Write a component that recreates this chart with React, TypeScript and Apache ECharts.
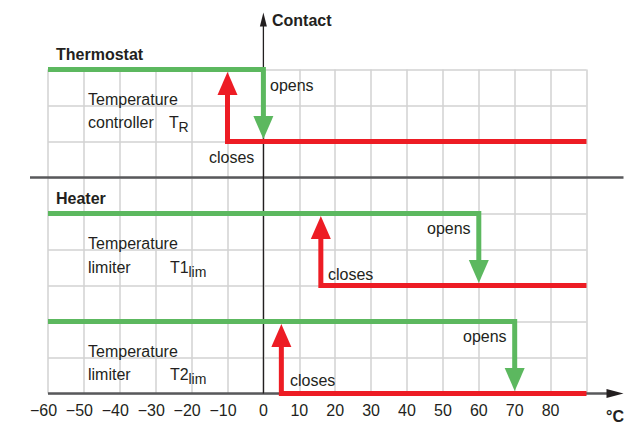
import React, { useEffect, useRef } from 'react';
import * as echarts from 'echarts';

// ---- data ----
const X_MIN = -60;
const X_MAX = 90;
const X_STEP = 10;
const Y_MIN = 0;
const Y_MAX = 9;
const xTickLabels = [-60, -50, -40, -30, -20, -10, 0, 10, 20, 30, 40, 50, 60, 70, 80];

// contact paths [temperature, contact level]
const thermostatOpens = [[-60, 9], [0, 9], [0, 7]];
const thermostatCloses = [[90, 7], [-10, 7], [-10, 9]];
const limiter1Opens = [[-60, 5], [60, 5], [60, 3]];
const limiter1Closes = [[90, 3], [16, 3], [16, 5]];
const limiter2Opens = [[-60, 2], [70, 2], [70, 0]];
const limiter2Closes = [[90, 0], [5, 0], [5, 2]];
const separatorLevel = [6];

const GREEN = '#5cb85f';
const RED = '#ed1c24';
const TEXT = '#231f20';
const AXIS = '#58595b';
const FONT = '"Liberation Sans", Arial, Helvetica, sans-serif';

function arrowSeries(path: number[][], color: string, z: number) {
  return {
    type: 'custom',
    coordinateSystem: 'cartesian2d',
    clip: false,
    silent: true,
    z,
    data: [path[0]],
    renderItem: (_p: any, api: any) => {
      const pts = path.map((p) => api.coord(p));
      const n = pts.length;
      const a = pts[n - 2];
      const b = pts[n - 1];
      const dx = b[0] - a[0];
      const dy = b[1] - a[1];
      const len = Math.hypot(dx, dy) || 1;
      const ux = dx / len;
      const uy = dy / len;
      const tip = [b[0] - ux * 2.5, b[1] - uy * 2.5];
      const headLen = 23;
      const headHalf = 10;
      const base = [tip[0] - ux * headLen, tip[1] - uy * headLen];
      const linePts = [...pts.slice(0, n - 1), [base[0] + ux * 2, base[1] + uy * 2]];
      return {
        type: 'group',
        children: [
          {
            type: 'polyline',
            shape: { points: linePts },
            style: { stroke: color, lineWidth: 5, fill: null, lineJoin: 'miter', lineCap: 'butt' },
          },
          {
            type: 'polygon',
            shape: {
              points: [
                tip,
                [base[0] - uy * headHalf, base[1] + ux * headHalf],
                [base[0] + uy * headHalf, base[1] - ux * headHalf],
              ],
            },
            style: { fill: color },
          },
        ],
      };
    },
  };
}

const axesSeries = {
  type: 'custom',
  coordinateSystem: 'cartesian2d',
  clip: false,
  silent: true,
  z: 3,
  data: [[X_MIN, Y_MIN]],
  renderItem: (_p: any, api: any) => {
    const o = api.coord([X_MIN, Y_MIN]);
    const e = api.coord([X_MAX, Y_MIN]);
    const xEnd = e[0] + 37;
    const y0 = api.coord([0, Y_MIN]);
    const yTop = api.coord([0, Y_MAX]);
    const yTip = yTop[1] - 57;
    const s0 = api.coord([X_MIN, separatorLevel[0]]);
    const s1 = api.coord([X_MAX, separatorLevel[0]]);
    return {
      type: 'group',
      children: [
        {
          type: 'line',
          shape: { x1: s0[0] - 18, y1: s0[1], x2: s1[0] + 37, y2: s1[1] },
          style: { stroke: AXIS, lineWidth: 2.5 },
        },
        {
          type: 'line',
          shape: { x1: o[0], y1: o[1], x2: xEnd - 12, y2: o[1] },
          style: { stroke: AXIS, lineWidth: 2.5 },
        },
        {
          type: 'polygon',
          shape: { points: [[xEnd, o[1]], [xEnd - 17, o[1] - 4.5], [xEnd - 17, o[1] + 4.5]] },
          style: { fill: TEXT },
        },
        {
          type: 'line',
          shape: { x1: y0[0], y1: y0[1], x2: y0[0], y2: yTip + 8 },
          style: { stroke: TEXT, lineWidth: 1.3 },
        },
        {
          type: 'polygon',
          shape: { points: [[y0[0], yTip], [y0[0] - 3.5, yTip + 14], [y0[0] + 3.5, yTip + 14]] },
          style: { fill: TEXT },
        },
      ],
    };
  },
};

function txt(text: string, x: number, y: number, size = 16, bold = false) {
  return {
    type: 'text',
    x,
    y,
    z: 10,
    silent: true,
    style: {
      text,
      fill: TEXT,
      font: `${bold ? 'bold ' : ''}${size}px ${FONT}`,
      textAlign: 'left',
      textVerticalAlign: 'middle',
      align: 'left',
      verticalAlign: 'middle',
    },
  };
}

export default function App() {
  const ref = useRef<HTMLDivElement>(null);
  useEffect(() => {
    if (!ref.current) return;
    const chart = echarts.init(ref.current, undefined, { renderer: 'svg' });
    chart.setOption({
      animation: false,
      backgroundColor: '#ffffff',
      grid: { left: 48, right: 43.5, top: 69.5, bottom: 29.5, containLabel: false },
      xAxis: {
        type: 'value',
        min: X_MIN,
        max: X_MAX,
        interval: X_STEP,
        axisLine: { show: false },
        axisTick: { show: false },
        splitLine: { show: true, lineStyle: { color: '#d2d2d2', width: 1.5 } },
        axisLabel: {
          margin: 9,
          color: TEXT,
          fontSize: 16,
          fontFamily: FONT,
          formatter: (v: number) => {
            if (!xTickLabels.includes(v)) return '';
            return v < 0 ? `{n|\u2212${-v}}` : `${v}`;
          },
          rich: {
            n: { fontSize: 16, fontFamily: FONT, color: TEXT, padding: [0, 9, 0, 0] },
          },
        },
      },
      yAxis: {
        type: 'value',
        min: Y_MIN,
        max: Y_MAX,
        interval: 1,
        axisLine: { show: false },
        axisTick: { show: false },
        axisLabel: { show: false },
        splitLine: { show: true, lineStyle: { color: '#d2d2d2', width: 1.5 } },
      },
      series: [
        axesSeries,
        arrowSeries(thermostatOpens, GREEN, 5),
        arrowSeries(thermostatCloses, RED, 6),
        arrowSeries(limiter1Opens, GREEN, 5),
        arrowSeries(limiter1Closes, RED, 6),
        arrowSeries(limiter2Opens, GREEN, 5),
        arrowSeries(limiter2Closes, RED, 6),
      ],
      graphic: [
        txt('Contact', 272, 20, 16, true),
        txt('Thermostat', 56, 54.5, 16, true),
        txt('Heater', 56, 198, 16, true),
        txt('°C', 606, 416, 16, true),
        txt('Temperature', 88, 99),
        txt('controller', 88, 122),
        txt('T', 169, 122),
        txt('R', 178.5, 127, 14),
        txt('opens', 270, 85),
        txt('closes', 209, 157),
        txt('Temperature', 88, 243),
        txt('limiter', 88, 267),
        txt('T1', 170, 267),
        txt('lim', 188.5, 272, 14),
        txt('opens', 427, 228),
        txt('closes', 328, 274.5),
        txt('Temperature', 88, 351),
        txt('limiter', 88, 374.5),
        txt('T2', 170, 374.5),
        txt('lim', 188.5, 379, 14),
        txt('opens', 463, 336),
        txt('closes', 290, 380),
      ],
    });
    return () => chart.dispose();
  }, []);
  return (
    <div
      ref={ref}
      style={{ position: 'fixed', left: 0, top: 0, width: 630, height: 423, background: '#fff' }}
    />
  );
}
